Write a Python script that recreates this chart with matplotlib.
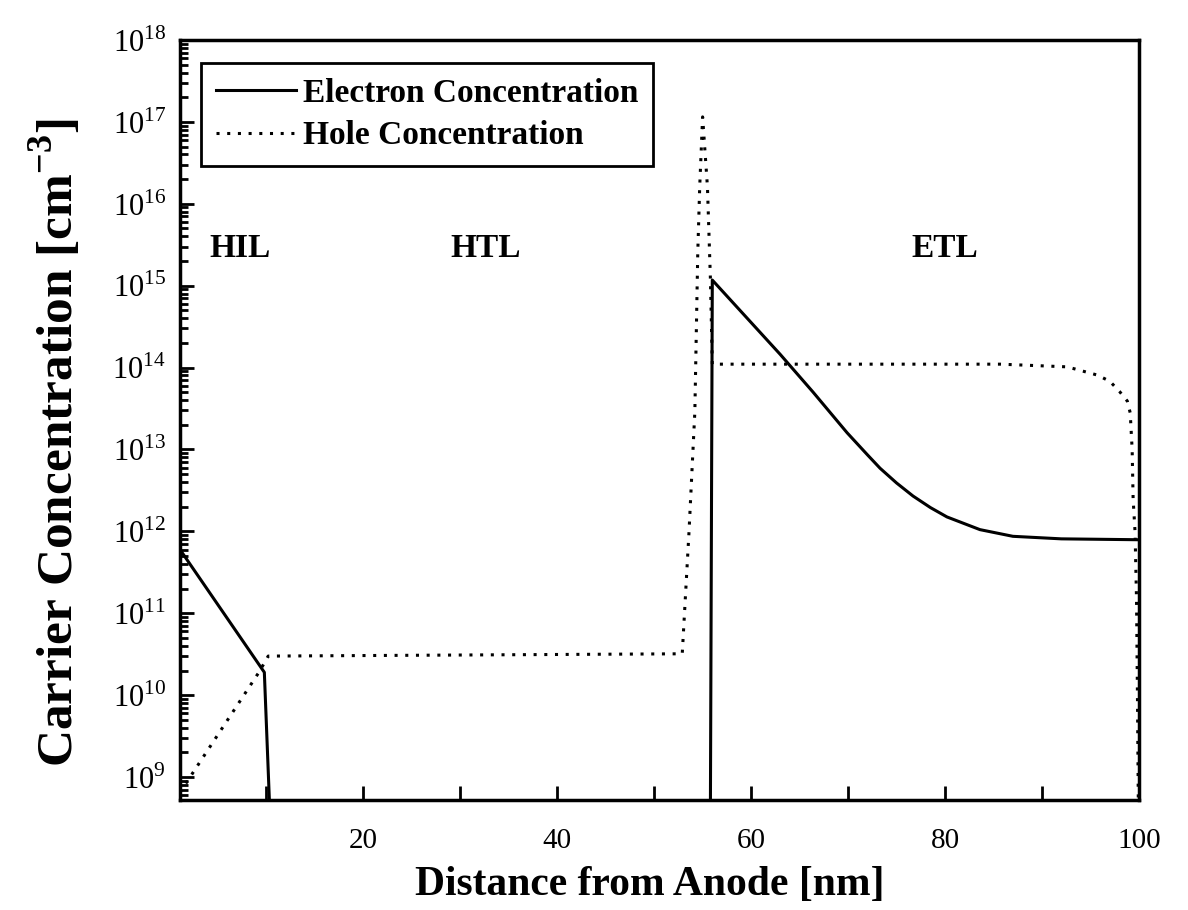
import matplotlib
matplotlib.use('Agg')
import matplotlib.pyplot as plt
from matplotlib.ticker import LogLocator, FixedLocator, NullFormatter

# electron concentration [cm^-3] vs distance [nm]
x_electron = [1.1, 9.8, 10.4, 55.8, 56.0, 63.0, 66.4, 69.9, 72.0, 73.3, 75.0, 76.7, 78.5, 80.2,
              83.6, 87.0, 92.0, 100.0]
n_electron = [6.0e11, 1.9e10, 3.0e8, 3.0e8, 1.17e15, 1.45e14, 5.0e13, 1.6e13, 8.6e12, 5.9e12,
              3.9e12, 2.7e12, 1.95e12, 1.5e12, 1.05e12, 8.7e11, 8.1e11, 7.9e11]

# hole concentration
x_hole = [1.1, 9.3, 10.2, 52.9, 53.6, 54.2, 54.5, 54.7, 55.0, 55.5, 55.8, 56.0, 85.7, 92.6, 95.7,
          97.0, 98.0, 98.8, 99.1, 99.3, 99.4, 99.6, 99.75, 99.85, 99.95]
n_hole = [6.5e8, 1.95e10, 3.0e10, 3.2e10, 1.0e12, 2.9e13, 2.5e15, 1.6e16, 1.15e17, 1.6e16, 1.26e15,
          1.1e14, 1.1e14, 1.02e14, 8.1e13, 6.8e13, 5.1e13, 3.9e13, 2.8e13, 1.0e13, 2.5e12, 9.8e11,
          1.5e11, 8.9e9, 3.0e8]

layer_names = ['HIL', 'HTL', 'ETL']
layer_x = [7.3, 32.6, 80.0]

plt.rcParams['font.family'] = ['Liberation Serif', 'DejaVu Serif']
plt.rcParams['mathtext.fontset'] = 'custom'
plt.rcParams['mathtext.rm'] = 'Liberation Serif'
plt.rcParams['mathtext.bf'] = 'Liberation Serif:bold'

fig = plt.figure(figsize=(11.88, 9.10), dpi=100)
ax = fig.add_axes([0.1515, 0.1209, 0.8072, 0.8352])

ax.plot(x_electron, n_electron, color='black', lw=2.2, label='Electron Concentration')
ax.plot(x_hole, n_hole, color='black', lw=2.2, linestyle=(0, (1, 2.5)), label='Hole Concentration')

ax.set_yscale('log')
ax.set_xlim(1.1, 100)
ax.set_ylim(5.25e8, 1e18)

ax.yaxis.set_major_locator(FixedLocator([10.0**k for k in range(9, 19)]))
ax.yaxis.set_minor_locator(LogLocator(base=10, subs=range(2, 10), numticks=20))
ax.yaxis.set_minor_formatter(NullFormatter())
ax.set_yticklabels([r'$10^{%d}$' % k for k in range(9, 19)])

ax.set_xticks([20, 40, 60, 80, 100])
ax.set_xticks([10, 30, 50, 70, 90], minor=True)

ax.tick_params(axis='both', which='both', direction='in', width=2)
ax.tick_params(axis='y', which='major', length=10, labelsize=22, pad=10)
ax.tick_params(axis='y', which='minor', length=6)
ax.tick_params(axis='x', which='both', length=10, labelsize=21, pad=20)

for s in ax.spines.values():
    s.set_linewidth(2.5)

for name, xp in zip(layer_names, layer_x):
    ax.text(xp, 10**15.45, name, ha='center', va='center', fontsize=24, fontweight='bold')

ax.set_xlabel('Distance from Anode [nm]', fontsize=30, fontweight='bold')
ax.xaxis.set_label_coords(0.49, -0.087)
ax.set_ylabel(r'Carrier Concentration [cm$^{\mathbf{-3}}$]', fontsize=37, fontweight='bold')
ax.yaxis.set_label_coords(-0.1, 0.47)

leg = ax.legend(loc='upper left', bbox_to_anchor=(0.022, 0.97), prop={'weight': 'bold', 'size': 24},
                frameon=True, fancybox=False, edgecolor='black', framealpha=1, handlelength=2.4,
                handletextpad=0.2, borderpad=0.45, labelspacing=0.35, borderaxespad=0)
leg.get_frame().set_linewidth(2)

fig.savefig('out.png', dpi=100)
